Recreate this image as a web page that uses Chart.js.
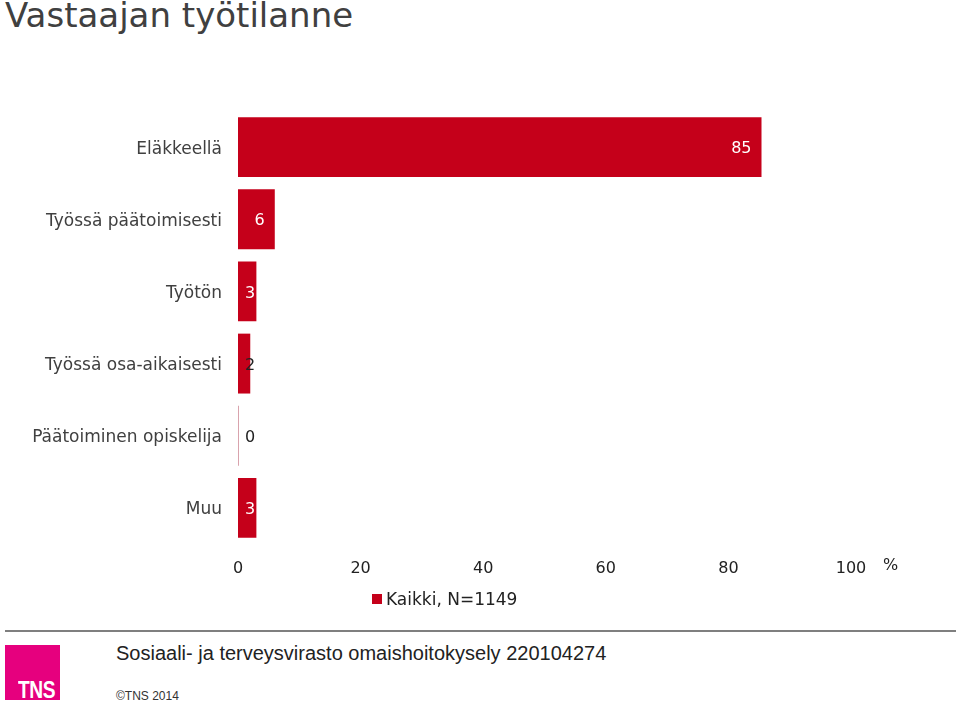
<!DOCTYPE html>
<html>
<head>
<meta charset="utf-8">
<script src="https://cdn.jsdelivr.net/npm/chart.js@4.4.1/dist/chart.umd.min.js"></script>
<style>
  html, body { margin: 0; padding: 0; background: #fff; }
  body { width: 959px; height: 702px; position: relative; overflow: hidden; font-family: "DejaVu Sans", Verdana, sans-serif; }
  #title { position: absolute; left: 5px; top: -5px; font-size: 34px; color: #404040; white-space: nowrap; }
  #wrap { position: absolute; left: 0; top: 0; width: 959px; height: 620px; }
  #pct { position: absolute; left: 883px; top: 555px; font-size: 16px; color: #222; }
  #legend { position: absolute; left: 372px; top: 589px; font-size: 17px; color: #222; white-space: nowrap; }
  #legend .box { display: inline-block; width: 10px; height: 10px; margin-right: 4px; vertical-align: 1px; }
  #rule { position: absolute; left: 5px; top: 630px; width: 951px; height: 2px; background: #7f7f7f; }
  #logo { position: absolute; left: 5px; top: 645px; width: 55px; height: 55px; background: #e6007e; overflow: hidden; }
  #logo span { position: absolute; left: 13px; top: 33px; color: #fff; font-family: "Liberation Sans", Arial, sans-serif; font-weight: bold; font-size: 24px; line-height: 24px; transform: scaleX(0.8); transform-origin: left top; letter-spacing: -0.5px; }
  #src { position: absolute; left: 116px; top: 642px; font-family: "Liberation Sans", Arial, sans-serif; font-size: 20px; color: #222; white-space: nowrap; }
  #copy { position: absolute; left: 116px; top: 689px; font-family: "Liberation Sans", Arial, sans-serif; font-size: 12px; color: #333; white-space: nowrap; }
</style>
</head>
<body>
<div id="title">Vastaajan työtilanne</div>
<div id="wrap"><canvas id="c" width="959" height="620"></canvas></div>
<div id="pct">%</div>
<div id="legend"></div>
<div id="rule"></div>
<div id="logo"><span>TNS</span></div>
<div id="src">Sosiaali- ja terveysvirasto omaishoitokysely 220104274</div>
<div id="copy">©TNS 2014</div>
<script>
const categories = ["Eläkkeellä", "Työssä päätoimisesti", "Työtön", "Työssä osa-aikaisesti", "Päätoiminen opiskelija", "Muu"];
const values = [85.4, 6, 3, 2, 0, 3];
const seriesLabel = "Kaikki, N=1149";
const xTicks = [0, 20, 40, 60, 80, 100];

const RED = '#c5001a';
const textFont = '16px "DejaVu Sans", Verdana, sans-serif';

document.getElementById('legend').innerHTML =
  '<span class="box" style="background:' + RED + '"></span>' + seriesLabel;

const valueLabels = {
  id: 'valueLabels',
  afterDatasetsDraw(chart) {
    const ctx = chart.ctx;
    const meta = chart.getDatasetMeta(0);
    ctx.save();
    ctx.font = textFont;
    ctx.textBaseline = 'middle';
    meta.data.forEach((el, i) => {
      const txt = String(Math.round(values[i]));
      const w = ctx.measureText(txt).width;
      const end = el.x;
      const base = el.base;
      let right = end - 10;
      let left = right - w;
      if (left < base + 7) { left = base + 7; right = left + w; }
      ctx.fillStyle = (right <= end) ? '#ffffff' : '#222222';
      ctx.textAlign = 'left';
      ctx.fillText(txt, left, el.y + 2);
    });
    ctx.restore();
  }
};

new Chart(document.getElementById('c'), {
  type: 'bar',
  data: {
    labels: categories,
    datasets: [{
      label: seriesLabel,
      data: values,
      backgroundColor: values.map(v => v === 0 ? '#d9a3ad' : RED),
      borderWidth: 0,
      minBarLength: 1,
      barPercentage: 0.83,
      categoryPercentage: 1.0
    }]
  },
  options: {
    indexAxis: 'y',
    responsive: false,
    animation: false,
    devicePixelRatio: 1,
    layout: { padding: { left: 0, right: 108, top: 111, bottom: 0 } },
    plugins: { legend: { display: false }, tooltip: { enabled: false } },
    scales: {
      x: {
        min: 0, max: 100,
        afterBuildTicks(scale) { scale.ticks = xTicks.map(v => ({ value: v })); },
        afterFit(scale) { scale.height = 76; },
        grid: { display: false, drawTicks: false },
        border: { display: false },
        ticks: { color: '#222', font: { family: '"DejaVu Sans", Verdana, sans-serif', size: 16 }, padding: 15, maxRotation: 0 }
      },
      y: {
        afterFit(scale) { scale.width = 238; },
        grid: { display: false, drawTicks: false },
        border: { display: false },
        ticks: { color: '#404040', font: { family: '"DejaVu Sans", Verdana, sans-serif', size: 17, lineHeight: 1.0 }, padding: 16, labelOffset: 2 }
      }
    }
  },
  plugins: [valueLabels]
});
</script>
</body>
</html>
